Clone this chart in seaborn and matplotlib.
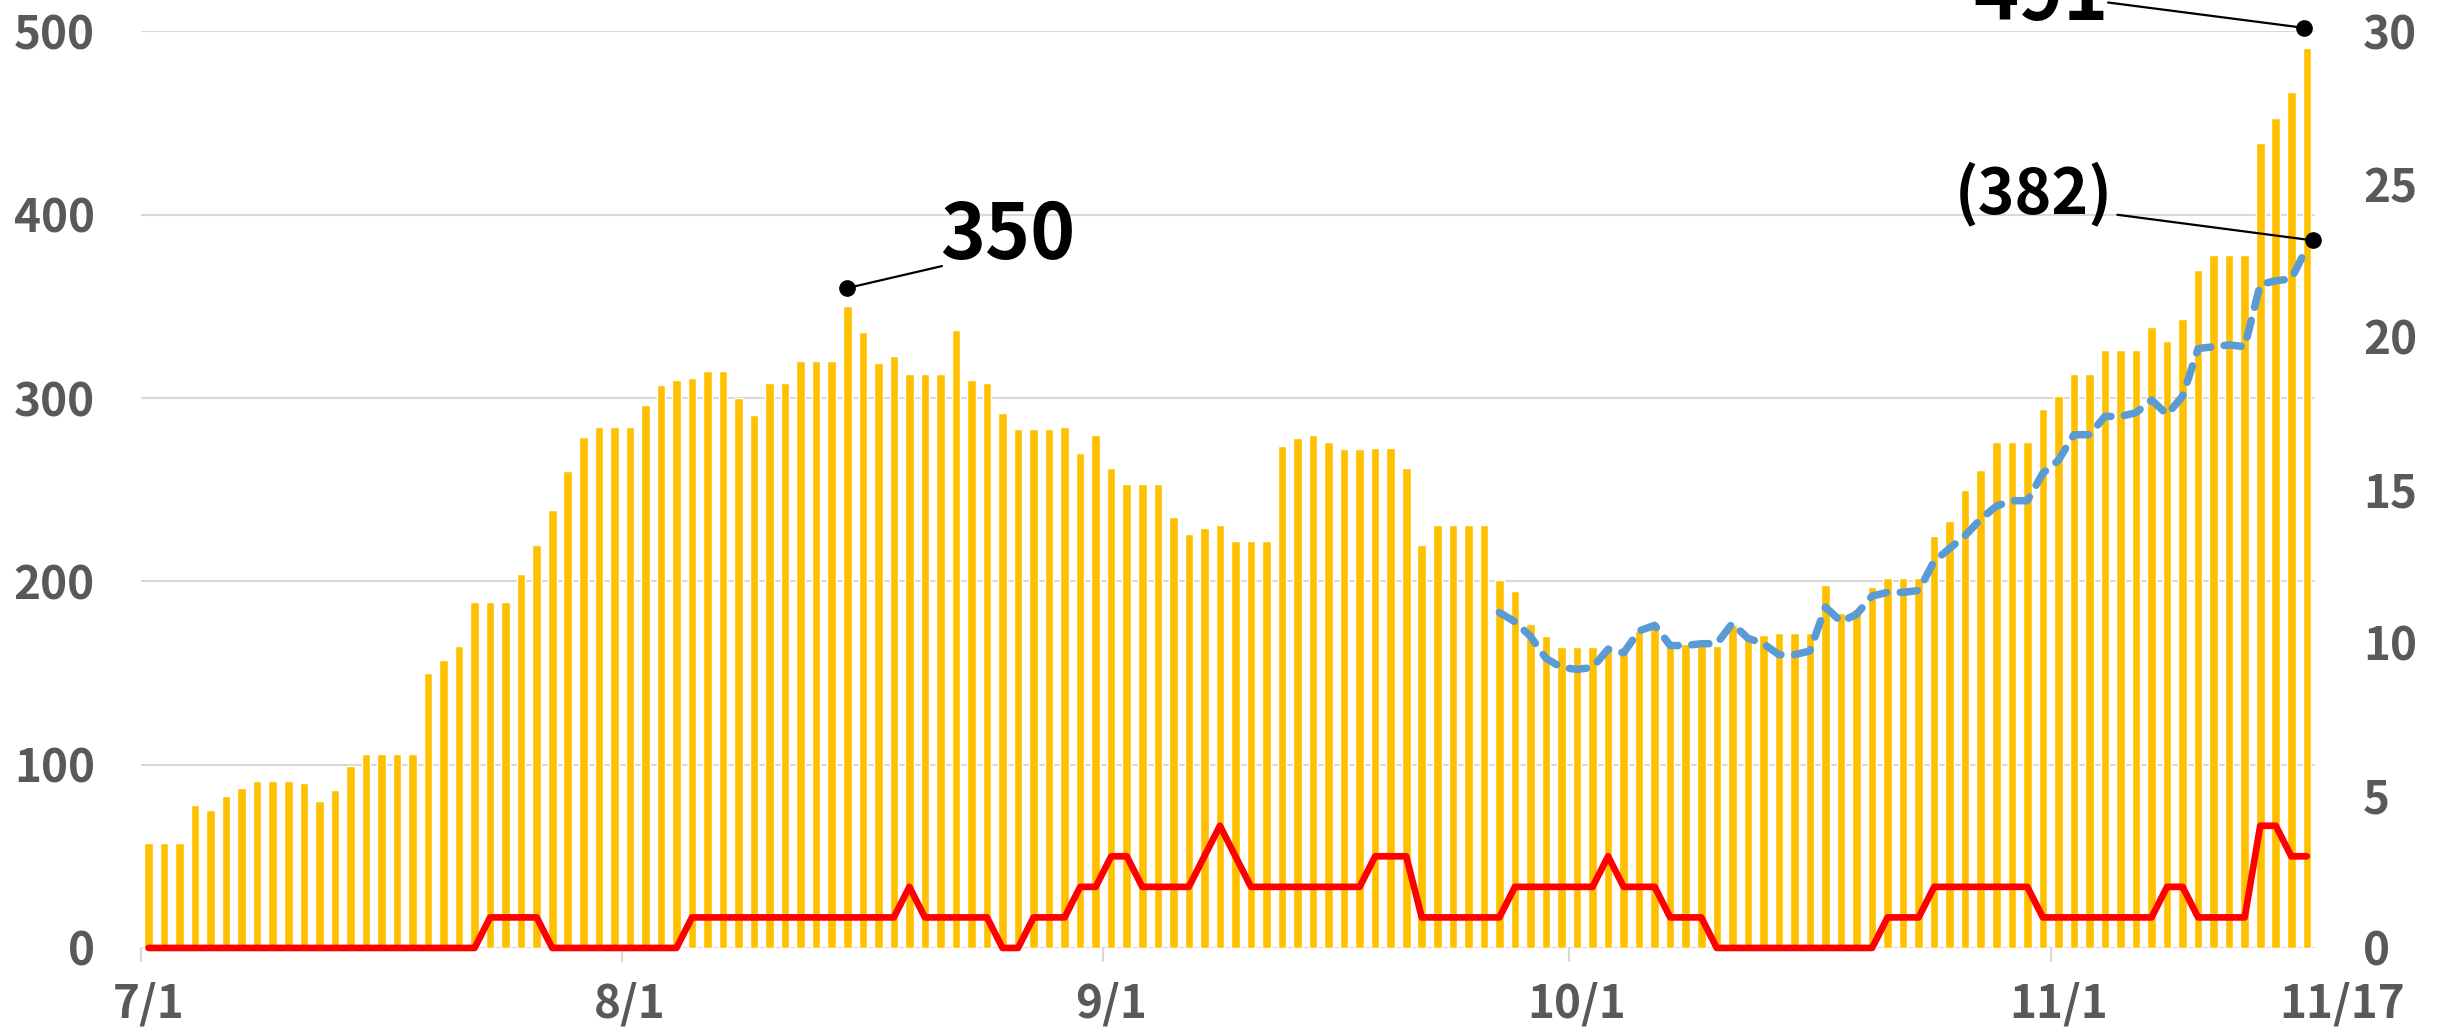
import numpy as np
import pandas as pd
import matplotlib
matplotlib.use("Agg")
import matplotlib.pyplot as plt
import seaborn as sns

# daily counts 7/1 - 11/17 (bars, left axis)
cases = [57, 57, 57, 78, 75, 83, 87, 91, 91, 91,
         90, 80, 86, 99, 106, 106, 106, 106, 150, 157,
         165, 189, 189, 189, 204, 220, 239, 260, 279, 284,
         284, 284, 296, 307, 310, 311, 315, 315, 300, 291,
         308, 308, 320, 320, 320, 350, 336, 319, 323, 313,
         313, 313, 337, 310, 308, 292, 283, 283, 283, 284,
         270, 280, 262, 253, 253, 253, 235, 226, 229, 231,
         222, 222, 222, 274, 278, 280, 276, 272, 272, 273,
         273, 262, 220, 231, 231, 231, 231, 201, 195, 177,
         170, 164, 164, 164, 163, 162, 173, 175, 165, 166,
         166, 165, 176, 170, 171, 172, 172, 172, 198, 183,
         185, 197, 202, 202, 202, 225, 233, 250, 261, 276,
         276, 276, 294, 301, 313, 313, 326, 326, 326, 339,
         331, 343, 370, 378, 378, 378, 439, 453, 467, 491]

# red line (right axis)
severe = [0, 0, 0, 0, 0, 0, 0, 0, 0, 0,
          0, 0, 0, 0, 0, 0, 0, 0, 0, 0,
          0, 0, 1, 1, 1, 1, 0, 0, 0, 0,
          0, 0, 0, 0, 0, 1, 1, 1, 1, 1,
          1, 1, 1, 1, 1, 1, 1, 1, 1, 2,
          1, 1, 1, 1, 1, 0, 0, 1, 1, 1,
          2, 2, 3, 3, 2, 2, 2, 2, 3, 4,
          3, 2, 2, 2, 2, 2, 2, 2, 2, 3,
          3, 3, 1, 1, 1, 1, 1, 1, 2, 2,
          2, 2, 2, 2, 3, 2, 2, 2, 1, 1,
          1, 0, 0, 0, 0, 0, 0, 0, 0, 0,
          0, 0, 1, 1, 1, 2, 2, 2, 2, 2,
          2, 2, 1, 1, 1, 1, 1, 1, 1, 1,
          2, 2, 1, 1, 1, 1, 4, 4, 3, 3]

# blue dashed line (left axis), starts 9/26
avg_start = 87
avg = [183, 178, 170, 158, 153, 152, 153, 163, 161, 173,
       176, 165, 165, 166, 166, 177, 169, 166, 160, 160,
       162, 186, 178, 182, 192, 194, 194, 195, 211, 218,
       225, 234, 241, 244, 244, 259, 266, 280, 280, 290,
       290, 292, 299, 291, 301, 327, 328, 329, 328, 362,
       364, 365, 382]

tick_pos = [0, 31, 62, 92, 123]
tick_labels = ["7/1", "8/1", "9/1", "10/1", "11/1"]

sns.set_theme(style="white")
plt.rcParams["font.family"] = ["Noto Sans CJK JP", "DejaVu Sans"]
plt.rcParams["font.weight"] = "bold"

grey = "#595959"
fs = 33
fig = plt.figure(figsize=(24.48, 10.35), dpi=100)
ax = fig.add_axes([0.0575, 0.0841, 0.888, 0.8855])

df = pd.DataFrame({"day": np.arange(len(cases)), "cases": cases})
sns.barplot(data=df, x="day", y="cases", color="#FFC000", saturation=1,
            width=0.55, ax=ax, zorder=2)

avg_x = np.arange(avg_start, avg_start + len(avg))
ax.plot(avg_x, avg, color="#5B9BD5", linewidth=5.4, dashes=(2.3, 1.8),
        dash_capstyle="round", solid_joinstyle="round", zorder=3)

ax.set_xlim(-0.5, 139.5)
ax.set_ylim(0, 500)
ax.set_yticks(range(0, 501, 100))
ax.set_xticks(tick_pos)
ax.set_xticklabels(tick_labels)
ax.set_xticks([p - 0.5 for p in tick_pos], minor=True)
ax.tick_params(axis="y", length=0, pad=33, labelsize=fs, labelcolor=grey)
ax.tick_params(axis="x", which="major", length=0, pad=24, labelsize=fs, labelcolor=grey)
ax.tick_params(axis="x", which="minor", bottom=True, length=10, width=1.5, color="#D9D9D9")
ax.set_xlabel("")
ax.set_ylabel("")
ax.yaxis.grid(True, color="#D9D9D9", linewidth=1.5)
ax.set_axisbelow(True)

ax2 = ax.twinx()
sns.lineplot(x=np.arange(len(severe)), y=severe, ax=ax2, color="#FF0000",
             linewidth=4.8, clip_on=False)
ax2.set_ylim(0, 30)
ax2.set_yticks(range(0, 31, 5))
ax2.tick_params(axis="y", length=0, pad=35, labelsize=fs, labelcolor=grey)
ax2.set_ylabel("")
ax2.grid(False)

for a in (ax, ax2):
    for s in a.spines.values():
        s.set_visible(False)

ax.annotate("11/17", xy=(141.3, 0), xycoords=("data", "axes fraction"),
            xytext=(0, -24), textcoords="offset points", ha="center", va="top",
            fontsize=fs, color=grey, annotation_clip=False)

# callouts
peak = int(np.argmax(cases[:100]))
ax.plot([peak, 51.1], [cases[peak] + 10, 372], color="black", lw=1.6, clip_on=False, zorder=5)
ax.plot([peak], [cases[peak] + 10], "o", color="black", ms=11, clip_on=False, zorder=5)
ax.text(51.0, 376, str(cases[peak]), fontsize=55, color="black", ha="left", va="baseline")

last = len(cases) - 1
ax.plot([126.2, last - 0.2], [515.8, cases[last] + 11], color="black", lw=1.6, clip_on=False, zorder=5)
ax.plot([last - 0.2], [cases[last] + 11], "o", color="black", ms=11, clip_on=False, zorder=5)
ax.text(117.5, 506, str(cases[last]), fontsize=55, color="black", ha="left", va="baseline",
        clip_on=False)

ax.plot([126.8, last + 0.4], [400, avg[-1] + 4], color="black", lw=1.6, clip_on=False, zorder=5)
ax.plot([last + 0.4], [avg[-1] + 4], "o", color="black", ms=11, clip_on=False, zorder=5)
ax.text(116.3, 400.8, "(%d)" % avg[-1], fontsize=45, color="black", ha="left", va="baseline")

fig.savefig("out.png", dpi=100)
